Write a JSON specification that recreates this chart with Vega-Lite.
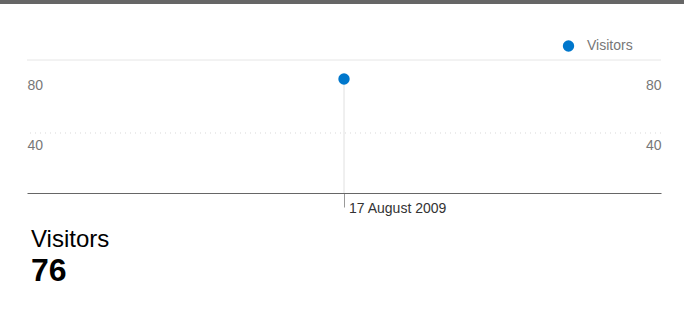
{
  "$schema": "https://vega.github.io/schema/vega-lite/v6.json",
  "width": 634,
  "height": 133,
  "autosize": {"type": "none"},
  "padding": {"left": 27, "top": 60, "right": 23, "bottom": 120},
  "background": "white",
  "config": {
    "font": "Liberation Sans",
    "view": {"stroke": null},
    "axis": {"labelFont": "Liberation Sans", "grid": false}
  },
  "data": {"values": [{"date": "2009-08-17", "metric": "Visitors", "value": 76}]},
  "title": {
    "text": "Visitors",
    "subtitle": "76",
    "orient": "bottom",
    "anchor": "start",
    "frame": "group",
    "dx": 4,
    "offset": 12,
    "font": "Liberation Sans",
    "fontSize": 24,
    "fontWeight": "normal",
    "color": "#000000",
    "subtitleFont": "Liberation Sans",
    "subtitleFontSize": 32,
    "subtitleFontWeight": "bold",
    "subtitleColor": "#000000",
    "subtitlePadding": 4
  },
  "resolve": {"axis": {"y": "independent"}},
  "layer": [
    {
      "mark": {"type": "rect", "color": "#666666", "clip": false},
      "encoding": {
        "x": {"datum": {"year": 2009, "month": 7, "date": 1}, "type": "temporal",
              "scale": {"domain": [{"year": 2009, "month": 8, "date": 10}, {"year": 2009, "month": 8, "date": 24}]},
              "axis": {
                "values": [{"year": 2009, "month": 8, "date": 17}], "format": "%-d %B %Y",
                "domainColor": "#666666", "tickColor": "#999999", "tickSize": 14,
                "labelAlign": "left", "labelBaseline": "alphabetic", "labelPadding": 5.5, "labelOffset": 4.5,
                "labelFontSize": 14, "labelColor": "#333333", "title": null
              }},
        "x2": {"datum": {"year": 2009, "month": 10, "date": 1}},
        "y": {"datum": 126, "type": "quantitative", "axis": null},
        "y2": {"datum": 200}
      }
    },
    {
      "mark": {"type": "rule", "color": "#e6e6e6", "strokeWidth": 1},
      "encoding": {
        "y": {"datum": 88.67, "type": "quantitative", "axis": null}
      }
    },
    {
      "mark": {"type": "rule", "color": "#d9d9d9", "strokeWidth": 1, "strokeDash": [1, 4]},
      "encoding": {
        "y": {"datum": 40, "type": "quantitative", "axis": null}
      }
    },
    {
      "mark": {"type": "rule", "color": "#e0e0e0", "strokeWidth": 1},
      "encoding": {
        "x": {"field": "date", "type": "temporal"},
        "y": {
          "field": "value", "type": "quantitative",
          "axis": {
            "orient": "right", "values": [40, 80], "ticks": false, "tickSize": 0, "domain": false,
            "labelAlign": "right", "labelBaseline": "alphabetic", "labelPadding": 0, "labelOffset": 16,
            "labelFontSize": 14, "labelColor": "#777777", "title": null
          }
        },
        "y2": {"datum": 0}
      }
    },
    {
      "mark": {"type": "point", "filled": true, "opacity": 1, "size": 130, "shape": "circle"},
      "encoding": {
        "x": {"field": "date", "type": "temporal"},
        "y": {
          "field": "value", "type": "quantitative",
          "scale": {"domain": [0, 88.67], "nice": false, "zero": true},
          "axis": {
            "orient": "left", "values": [40, 80], "ticks": false, "tickSize": 0, "domain": false,
            "labelAlign": "left", "labelBaseline": "alphabetic", "labelPadding": 0, "labelOffset": 16,
            "labelFontSize": 14, "labelColor": "#777777", "title": null
          }
        },
        "color": {
          "field": "metric", "type": "nominal",
          "scale": {"domain": ["Visitors"], "range": ["#0077cc"]},
          "legend": {
            "orient": "none", "legendX": 534.5, "legendY": -21, "title": null, "padding": 0,
            "symbolType": "circle", "symbolSize": 130, "symbolStrokeWidth": 0,
            "labelFontSize": 14, "labelColor": "#777777", "labelOffset": 11.5, "labelFont": "Liberation Sans"
          }
        }
      }
    }
  ]
}
